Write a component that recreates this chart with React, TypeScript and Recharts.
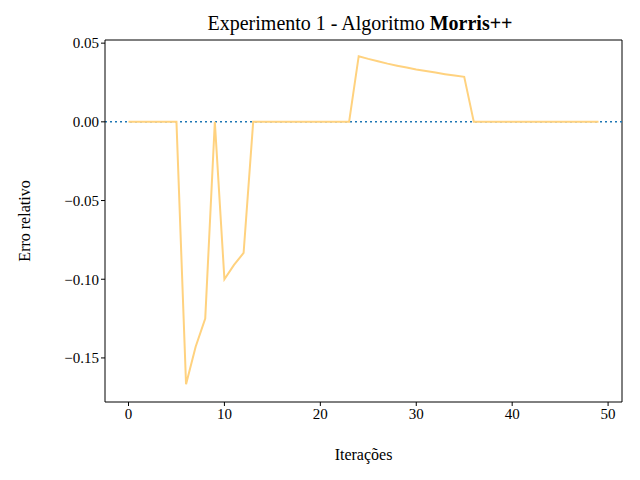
import React from "react";
import { LineChart, Line, XAxis, YAxis, ReferenceLine, Label } from "recharts";

const iterations = Array.from({ length: 50 }, (_, i) => i);
const errors = [
  0, 0, 0, 0, 0, 0, -0.1667, -0.1429, -0.125, 0, -0.1, -0.0909, -0.0833, 0,
  0, 0, 0, 0, 0, 0, 0, 0, 0, 0, 0.0417, 0.04, 0.0385, 0.037, 0.0357, 0.0345,
  0.0333, 0.0323, 0.0313, 0.0303, 0.0294, 0.0286, 0, 0, 0, 0, 0, 0, 0, 0, 0,
  0, 0, 0, 0, 0,
];
const xTicks = [0, 10, 20, 30, 40, 50];
const yTicks = [-0.15, -0.1, -0.05, 0, 0.05];

const data = iterations.map((x, i) => ({ x, y: errors[i] }));
const font = "'Liberation Serif', 'DejaVu Serif', serif";
const fmt = (v: number) => (v < 0 ? "\u2212" : "") + Math.abs(v).toFixed(2);
const XMIN = -2.45, XMAX = 51.45, YMIN = -0.178, YMAX = 0.052;

export default function App() {
  return (
    <div style={{ position: "absolute", left: 0, top: 0, width: 640, height: 480, background: "#fff" }}>
      <div style={{ position: "absolute", top: 12, width: 640, textAlign: "center", paddingLeft: 80, boxSizing: "border-box", fontFamily: font, fontSize: 20 }}>
        Experimento 1 - Algoritmo <b>Morris++</b>
      </div>
      <LineChart width={640} height={480} data={data} margin={{ top: 40, right: 18, bottom: 0, left: 0 }}>
        <XAxis dataKey="x" type="number" domain={[XMIN, XMAX]} ticks={xTicks} allowDataOverflow
          height={78} stroke="#000" tick={{ fill: "#000", fontFamily: font, fontSize: 15 }} tickSize={4}>
          <Label value="Iterações" position="insideBottom" offset={20} style={{ fontFamily: font, fontSize: 16, fill: "#000" }} />
        </XAxis>
        <YAxis type="number" domain={[YMIN, YMAX]} ticks={yTicks} allowDataOverflow width={105}
          stroke="#000" tickFormatter={fmt} tick={{ fill: "#000", fontFamily: font, fontSize: 15 }} tickSize={4}>
          <Label value="Erro relativo" angle={-90} position="insideLeft" offset={24} style={{ fontFamily: font, fontSize: 16, fill: "#000", textAnchor: "middle" }} />
        </YAxis>
        <ReferenceLine x={XMAX} stroke="#000" />
        <ReferenceLine y={YMAX} stroke="#000" />
        <ReferenceLine y={0} stroke="#1f77b4" strokeWidth={1.5} strokeDasharray="2 3" />
        <Line dataKey="y" stroke="#ffd27f" strokeWidth={2} dot={false} isAnimationActive={false} />
      </LineChart>
    </div>
  );
}
